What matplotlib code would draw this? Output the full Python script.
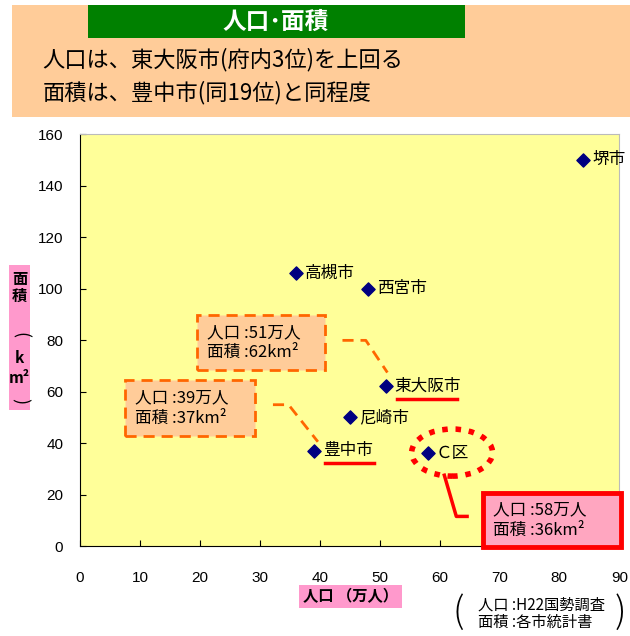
import matplotlib
matplotlib.use("Agg")
import matplotlib.pyplot as plt
from matplotlib.patches import Rectangle, Ellipse

plt.rcParams['font.family'] = ['Noto Sans CJK JP', 'DejaVu Sans']

# data: population (10k people) and area (km2)
cities = ['堺市', '高槻市', '西宮市', '東大阪市', '尼崎市', '豊中市', 'C区']
population = [84, 36, 48, 51, 45, 39, 58]
area = [150, 106, 100, 62, 50, 37, 36]

xticks = [0, 10, 20, 30, 40, 50, 60, 70, 80, 90]
yticks = [0, 20, 40, 60, 80, 100, 120, 140, 160]

fig = plt.figure(figsize=(6.3, 6.36), dpi=100)

# header
fig.add_artist(Rectangle((0.019, 0.816), 0.981, 0.176, transform=fig.transFigure,
                         fc='#FFCC99', ec='none'))
fig.add_artist(Rectangle((0.14, 0.940), 0.598, 0.052, transform=fig.transFigure,
                         fc='#008000', ec='none'))
fig.text(0.438, 0.966, '人口･面積', color='white', fontsize=17, fontweight='bold',
         ha='center', va='center')
fig.text(0.067, 0.906, '人口は、東大阪市(府内3位)を上回る', fontsize=16, va='center')
fig.text(0.067, 0.855, '面積は、豊中市(同19位)と同程度', fontsize=16, va='center')

ax = fig.add_axes([0.127, 0.1415, 0.856, 0.6475])
ax.set_facecolor('#FFFF99')
ax.scatter(population, area, marker='D', s=45, color='#000080', zorder=5)
ax.set_xlim(0, 90)
ax.set_ylim(0, 160)
ax.set_xticks(xticks)
ax.set_yticks(yticks)
ax.tick_params(direction='in', length=4, labelsize=11)
ax.tick_params(axis='x', pad=18)
ax.tick_params(axis='y', pad=12)
for lab in ax.get_xticklabels() + ax.get_yticklabels():
    lab.set_fontfamily(['Liberation Sans', 'DejaVu Sans'])
for s in ['top', 'right']:
    ax.spines[s].set_color('#BBBBBB')

# city labels
for name, x, y in zip(cities, population, area):
    if name == 'C区':
        ax.text(x + 1.3, y, 'Ｃ区', fontsize=12, va='center', zorder=6)
    else:
        ax.text(x + 1.5, y, name, fontsize=12, va='center', zorder=6)

# underlines for highlighted cities
for name, w in [('東大阪市', 10), ('豊中市', 8.2)]:
    i = cities.index(name)
    ax.plot([population[i] + 1.9, population[i] + 1.9 + w], [area[i] - 4.7, area[i] - 4.7],
            color='red', lw=2.5, zorder=6)

# dashed callouts
orange = '#FF6600'
ax.add_patch(Rectangle((19.5, 68.3), 21.4, 21.4, fc='#FFCC99', ec=orange, lw=2,
                       ls=(0, (4, 2.5)), zorder=4))
ax.text(21.2, 79, '人口 :51万人\n面積 :62km²', fontsize=12, va='center', ha='left',
        linespacing=1.25, zorder=5)
ax.add_patch(Rectangle((7.5, 42.7), 21.7, 21.8, fc='#FFCC99', ec=orange, lw=2,
                       ls=(0, (4, 2.5)), zorder=4))
ax.text(9.2, 53.6, '人口 :39万人\n面積 :37km²', fontsize=12, va='center', ha='left',
        linespacing=1.25, zorder=5)
i = cities.index('東大阪市')
ax.plot([population[i] - 7.2, population[i] - 3.3, population[i] + 0.3],
        [area[i] + 17.9, area[i] + 17.9, area[i] + 5.4], color=orange, lw=2,
        ls=(0, (4, 2.5)))
i = cities.index('豊中市')
ax.plot([population[i] - 6.8, population[i] - 4.2, population[i] + 0.7],
        [area[i] + 17.9, area[i] + 17.9, area[i] + 3.5], color=orange, lw=2,
        ls=(0, (4, 2.5)))

# C区 highlight
i = cities.index('C区')
ax.add_patch(Ellipse((population[i] + 4.1, area[i] + 0.3), 13.5, 18.3, fill=False,
                     ec='red', lw=4, ls=(0, (1, 1.4)), zorder=7))
ax.plot([population[i] + 2.8, population[i] + 4.8, population[i] + 6.6],
        [area[i] - 8.5, area[i] - 24.5, area[i] - 24.5], color='red', lw=2.5,
        zorder=7, clip_on=False)

fig.add_artist(Rectangle((0.767, 0.140), 0.219, 0.085, transform=fig.transFigure,
                         fc='#FFA6C0', ec='#FF0000', lw=3.5, zorder=10))
fig.text(0.782, 0.1825, '人口 :58万人\n面積 :36km²', fontsize=12, va='center',
         ha='left', linespacing=1.25, zorder=11)

# axis labels
fig.text(0.556, 0.062, '人口 （万人）', fontsize=11, fontweight='bold', ha='center',
         va='center', bbox=dict(boxstyle='square,pad=0.25', fc='#FF99CC', ec='none'))
fig.add_artist(Rectangle((0.0145, 0.355), 0.033, 0.228, transform=fig.transFigure,
                         fc='#FF99CC', ec='none'))
fig.text(0.031, 0.548, '面\n積', fontsize=11, fontweight='bold', ha='center',
         va='center', linespacing=1.0)
fig.text(0.031, 0.473, '(', fontsize=13, rotation=-90, ha='center', va='center')
fig.text(0.031, 0.437, 'k', fontsize=11, fontweight='bold', ha='center', va='center')
fig.text(0.031, 0.405, 'm²', fontsize=11, fontweight='bold', ha='center', va='center')
fig.text(0.031, 0.370, ')', fontsize=13, rotation=-90, ha='center', va='center')

# source note
fig.text(0.758, 0.0355, '人口 :H22国勢調査\n面積 :各市統計書', fontsize=11,
         va='center', ha='left', linespacing=1.0)
fig.text(0.728, 0.036, '(', fontsize=26, va='center', ha='center', fontweight='light')
fig.text(0.985, 0.036, ')', fontsize=26, va='center', ha='center', fontweight='light')

fig.savefig('out.png', dpi=100)
